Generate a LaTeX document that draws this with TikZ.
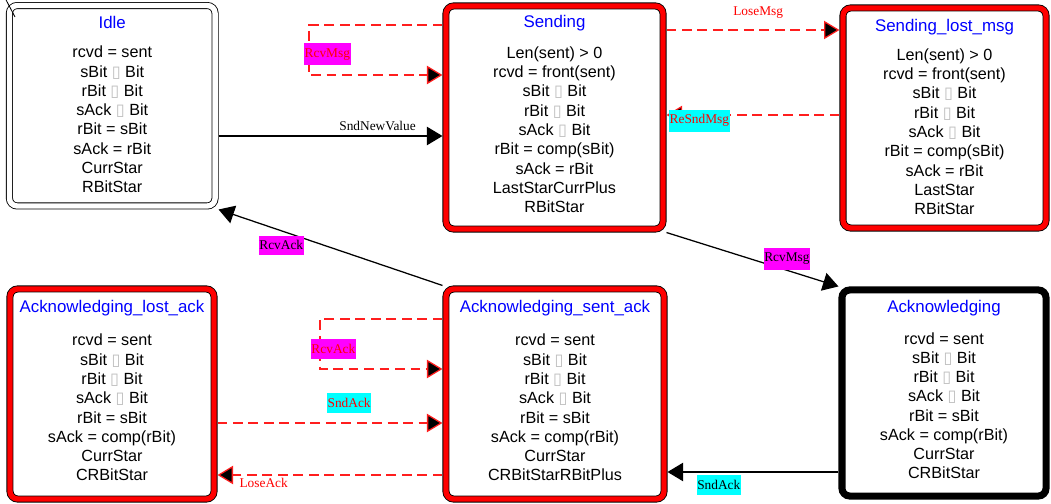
\documentclass[tikz,border=0pt]{standalone}
\usepackage{fontspec}
\setmainfont{Liberation Serif}
\newfontfamily\statefont{Liberation Sans}
\newfontfamily\glyphfont{DejaVu Sans}
\usetikzlibrary{arrows.meta}

\definecolor{title_blue}{RGB}{0,0,255}
\definecolor{band_red}{RGB}{255,0,0}
\definecolor{dash_red}{RGB}{255,30,30}
\definecolor{tag_magenta}{RGB}{255,0,255}
\definecolor{tag_cyan}{RGB}{0,255,255}

\newcommand{\nochar}{{\glyphfont\color{black!25}▯}}
\newcommand{\statetitle}[2][6.8pt]{{\fontsize{12}{13.7}\selectfont\color{title_blue}#2}\\[#1]}

\begin{document}
\begin{tikzpicture}[ % one unit is one pixel of the drawing
x=0.025cm, y=-0.025cm,
state_box/.style={rectangle, rounded corners=5.5pt, draw=black, fill=white, line width=0.6pt, double distance=3.8pt, outer sep=2.5pt, inner sep=0pt, text depth=5pt, align=center, font=\statefont\fontsize{11.5}{13.7}\selectfont},
plain_state/.style={state_box, double=white},
red_state/.style={state_box, double=band_red},
black_state/.style={state_box, double=black},
out_arrow/.style={-{Triangle[length=11pt, width=13pt]}, line width=0.9pt, black},
dashed_arrow/.style={-{Triangle[length=11pt, width=13pt, fill=black]}, line width=0.9pt, dash_red, dash pattern=on 7pt off 4pt},
edge_text/.style={font=\fontsize{9.5}{11}\selectfont, inner xsep=0.5pt, inner ysep=3.5pt},
msg_tag/.style={edge_text, fill=tag_magenta},
snd_tag/.style={edge_text, fill=tag_cyan}
]
\useasboundingbox (0,0) rectangle (1051,504);

% states
\node[plain_state, text depth=1.5pt, minimum width=5.14cm, minimum height=5.01cm](idle) at (112.25,105.75)
  {\statetitle{Idle}rcvd = sent\\ sBit \nochar{} Bit\\ rBit \nochar{} Bit\\ sAck \nochar{} Bit\\ rBit = sBit\\ sAck = rBit\\ CurrStar\\ RBitStar};

\node[red_state, minimum width=5.425cm, minimum height=5.575cm](sending) at (554.5,117.5)
  {\statetitle[8.2pt]{Sending}Len(sent) > 0\\ rcvd = front(sent)\\ sBit \nochar{} Bit\\ rBit \nochar{} Bit\\ sAck \nochar{} Bit\\ rBit = comp(sBit)\\ sAck = rBit\\ LastStarCurrPlus\\ RBitStar};

\node[red_state, text depth=1.5pt, minimum width=5.075cm, minimum height=5.5cm](lost_msg) at (944.5,118)
  {\statetitle{Sending\_lost\_msg}Len(sent) > 0\\ rcvd = front(sent)\\ sBit \nochar{} Bit\\ rBit \nochar{} Bit\\ sAck \nochar{} Bit\\ rBit = comp(sBit)\\ sAck = rBit\\ LastStar\\ RBitStar};

\node[red_state, minimum width=5.1cm, minimum height=5.25cm](ack_lost) at (112,394)
  {\statetitle[10.2pt]{Acknowledging\_lost\_ack}rcvd = sent\\ sBit \nochar{} Bit\\ rBit \nochar{} Bit\\ sAck \nochar{} Bit\\ rBit = sBit\\ sAck = comp(rBit)\\ CurrStar\\ CRBitStar};

\node[red_state, minimum width=5.45cm, minimum height=5.25cm](ack_sent) at (555,394)
  {\statetitle[10.2pt]{Acknowledging\_sent\_ack}rcvd = sent\\ sBit \nochar{} Bit\\ rBit \nochar{} Bit\\ sAck \nochar{} Bit\\ rBit = sBit\\ sAck = comp(rBit)\\ CurrStar\\ CRBitStarRBitPlus};

\node[black_state, minimum width=5.1cm, minimum height=5.15cm](ack) at (944,393)
  {\statetitle[8.9pt]{Acknowledging}rcvd = sent\\ sBit \nochar{} Bit\\ rBit \nochar{} Bit\\ sAck \nochar{} Bit\\ rBit = sBit\\ sAck = comp(rBit)\\ CurrStar\\ CRBitStar};

% initial mark
\coordinate (init_from) at (4,-4);
\coordinate (init_to) at (15,17);
\draw[line width=0.6pt](init_from) -- (init_to);

% levels and loop corners
\coordinate (snd_level) at (0,136);
\coordinate (lose_msg_level) at (0,30);
\coordinate (resnd_level) at (0,115);
\coordinate (sndack_level) at (0,423);
\coordinate (loseack_level) at (0,475);
\coordinate (sndack_back_level) at (0,472);
\coordinate (rcvmsg_top) at (309,25);
\coordinate (rcvmsg_bot) at (309,75);
\coordinate (rcvack_top) at (320,319);
\coordinate (rcvack_bot) at (320,369);

% transitions
\draw[out_arrow](idle.east |- snd_level) -- node[edge_text, above, pos=0.71]{SndNewValue} (sending.west |- snd_level);

\draw[dashed_arrow](sending.west |- rcvmsg_top) -- (rcvmsg_top) -- node[msg_tag, text=red, right=-4pt, yshift=-3pt]{RcvMsg} (rcvmsg_bot) -- (sending.west |- rcvmsg_bot);

\draw[dashed_arrow](sending.east |- lose_msg_level) -- node[edge_text, text=red, above=4pt, pos=0.53]{LoseMsg} (lost_msg.west |- lose_msg_level);
\draw[dashed_arrow](lost_msg.west |- resnd_level) -- node[snd_tag, text=red, pos=0.81, yshift=-4pt]{ReSndMsg} (sending.east |- resnd_level);

\draw[out_arrow](sending.south east) -- node[msg_tag, above, pos=0.7]{RcvMsg} (ack.north west);
\draw[out_arrow](ack_sent.north west) -- node[msg_tag, below=3pt, pos=0.72]{RcvAck} (idle.south east);

\draw[dashed_arrow](ack_sent.west |- rcvack_top) -- (rcvack_top) -- node[msg_tag, text=red, right=-7pt, yshift=-3.5pt]{RcvAck} (rcvack_bot) -- (ack_sent.west |- rcvack_bot);

\draw[dashed_arrow](ack_lost.east |- sndack_level) -- node[snd_tag, text=red, above=7pt, pos=0.585]{SndAck} (ack_sent.west |- sndack_level);
\draw[dashed_arrow](ack_sent.west |- loseack_level) -- node[edge_text, text=red, below=-2pt, pos=0.795]{LoseAck} (ack_lost.east |- loseack_level);

\draw[out_arrow](ack.west |- sndack_back_level) -- node[snd_tag, below=2pt, pos=0.7]{SndAck} (ack_sent.east |- sndack_back_level);

\end{tikzpicture}
\end{document}
